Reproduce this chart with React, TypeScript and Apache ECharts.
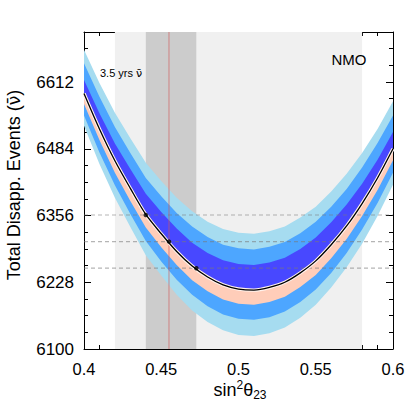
import React, { useEffect, useRef } from "react";
import * as echarts from "echarts";

// sin^2(theta23) sample positions
const xValues = [0.4, 0.41, 0.42, 0.43, 0.44, 0.45, 0.46, 0.47, 0.48, 0.49, 0.5, 0.51, 0.52, 0.53, 0.54, 0.55, 0.56, 0.57, 0.58, 0.59, 0.6];
// central prediction of total disappearance events (anti-nu)
const centralEvents = [6590, 6522, 6461, 6408, 6358, 6321, 6287, 6259, 6238, 6223, 6215, 6213, 6218, 6228, 6246, 6269, 6300, 6336, 6379, 6428, 6484];
// band edges above the central curve (events)
const upperInner = [26, 30, 33, 37, 40, 42, 44, 45, 46, 47, 48, 48, 48, 47, 46, 45, 43, 41, 38, 35, 32];
const upperMiddle = [58, 62, 65, 68, 70, 72, 74, 76, 77, 77, 78, 78, 78, 77, 76, 75, 73, 71, 69, 67, 64];
const upperOuter = [84, 88, 92, 96, 99, 101, 103, 105, 106, 107, 108, 108, 108, 107, 106, 104, 102, 100, 97, 94, 91];
// band edges below the central curve (events)
const lowerInner = [20, 21, 23, 24, 25, 26, 26, 27, 27, 28, 28, 28, 28, 28, 27, 27, 26, 25, 24, 23, 22];
const lowerMiddle = [42, 45, 47, 49, 51, 53, 54, 55, 56, 57, 57, 57, 57, 56, 56, 55, 54, 52, 50, 48, 46];
const lowerOuter = [62, 67, 71, 74, 78, 80, 83, 85, 86, 87, 88, 88, 88, 87, 86, 84, 82, 79, 77, 73, 69];
// highlighted points and their horizontal levels
const pointX = [0.44, 0.455, 0.4727];
const pointEvents = [6357, 6306, 6255];
// shaded regions in sin^2(theta23)
const lightRegion = [0.42, 0.58];
const darkRegion = [0.44, 0.4727];
const bestFit = 0.455;
// axis ticks
const xTicks = [0.4, 0.45, 0.5, 0.55, 0.6];
const yTicks = [6100, 6228, 6356, 6484, 6612];
const yMax = 6708;

const FONT = "'Liberation Sans', Arial, Helvetica, 'DejaVu Sans', sans-serif";
const MARK_FONT = "'DejaVu Sans', 'Noto Sans', sans-serif";
const NUBAR = "\u03bd\u0304";

const colors = {
  outer: "#a6dcf0",
  middle: "#4da6ff",
  innerUp: "#4848ff",
  innerDown: "#ffcdb9",
};

function bandSeries(lo: number[] | null, hi: number[] | null, color: string, z: number) {
  return {
    type: "custom",
    coordinateSystem: "cartesian2d",
    xAxisIndex: 0,
    yAxisIndex: 0,
    z,
    silent: true,
    clip: true,
    data: [[xValues[0], centralEvents[0]]],
    renderItem: (_params: any, api: any) => {
      const pts: number[][] = [];
      for (let i = 0; i < xValues.length; i++)
        pts.push(api.coord([xValues[i], centralEvents[i] + (hi ? hi[i] : 0)]));
      for (let i = xValues.length - 1; i >= 0; i--)
        pts.push(api.coord([xValues[i], centralEvents[i] - (lo ? lo[i] : 0)]));
      return { type: "polygon", shape: { points: pts }, style: { fill: color, stroke: null } };
    },
  };
}

export default function App() {
  const ref = useRef<HTMLDivElement>(null);
  useEffect(() => {
    const chart = echarts.init(ref.current!, null, { renderer: "svg" });
    const xStep = xTicks[1] - xTicks[0];
    const yStep = yTicks[1] - yTicks[0];
    const axisLineStyle = { color: "#000", width: 1 };
    const xAxisBase = {
      type: "value",
      min: xTicks[0],
      max: xTicks[xTicks.length - 1],
      interval: xStep,
      splitLine: { show: false },
      axisLine: { show: true, onZero: false, lineStyle: axisLineStyle },
      axisTick: { show: true, inside: true, length: 7, lineStyle: { color: "#000" } },
      minorTick: { show: true, splitNumber: 5, length: 4, lineStyle: { color: "#000" } },
      minorSplitLine: { show: false },
    };
    const yMajor = {
      type: "value",
      min: yTicks[0],
      max: yMax,
      interval: yStep,
      splitLine: { show: false },
      axisLine: { show: true, onZero: false, lineStyle: axisLineStyle },
      axisTick: { show: true, inside: true, length: 7, lineStyle: { color: "#000" } },
    };
    const yMinor = {
      type: "value",
      min: yTicks[0],
      max: yMax,
      interval: yStep / 4,
      splitLine: { show: false },
      axisLine: { show: false },
      axisLabel: { show: false },
      axisTick: { show: true, inside: true, length: 4, lineStyle: { color: "#000" } },
    };
    const dashed = { color: "rgba(120,120,120,0.55)", type: [4, 3], width: 1.2 };

    const option: any = {
      animation: false,
      backgroundColor: "#fff",
      grid: { left: 84, right: 14, top: 32, bottom: 58, containLabel: false, outerBoundsMode: "none" },
      xAxis: [
        {
          ...xAxisBase,
          position: "bottom",
          axisLabel: {
            show: true,
            margin: 11,
            fontSize: 16.5,
            color: "#000",
            fontFamily: FONT,
            formatter: (v: number) => String(Math.round(v * 100) / 100),
          },
        },
        { ...xAxisBase, position: "top", axisLabel: { show: false } },
      ],
      yAxis: [
        {
          ...yMajor,
          position: "left",
          axisLabel: {
            show: true,
            margin: 10,
            fontSize: 17,
            color: "#000",
            fontFamily: FONT,
            showMaxLabel: false,
            formatter: (v: number) => (yTicks.indexOf(Math.round(v)) >= 0 ? String(Math.round(v)) : ""),
          },
        },
        { ...yMinor, position: "left" },
        { ...yMajor, position: "right", axisLabel: { show: false } },
        { ...yMinor, position: "right" },
      ],
      graphic: [
        {
          type: "text",
          z: 100,
          x: 14,
          y: 185,
          rotation: Math.PI / 2,
          style: {
            text: "{a|Total Disapp. Events (}{n|" + NUBAR + "}{a|)}",
            fontSize: 18,
            fontFamily: FONT,
            fill: "#000",
            textAlign: "center",
            textVerticalAlign: "middle",
            rich: {
              a: { fontSize: 18, fontFamily: FONT, fill: "#000", lineHeight: 22 },
              n: { fontSize: 17, fontFamily: MARK_FONT, fill: "#000", lineHeight: 22 },
            },
          },
        },
        {
          type: "text",
          z: 100,
          x: 240,
          y: 390,
          style: {
            text: "{m|sin}{sup|2}{m|\u03b8}{sub|23}",
            fontFamily: FONT,
            fill: "#000",
            textAlign: "center",
            textVerticalAlign: "middle",
            rich: {
              m: { fontSize: 18, fontFamily: FONT, fill: "#000", lineHeight: 22, verticalAlign: "middle" },
              sup: { fontSize: 12, fontFamily: FONT, fill: "#000", lineHeight: 12, verticalAlign: "top" },
              sub: { fontSize: 12, fontFamily: FONT, fill: "#000", lineHeight: 12, verticalAlign: "bottom" },
            },
          },
        },
        {
          type: "text",
          z: 100,
          x: 100,
          y: 73,
          style: {
            text: "{a|3.5 yrs }{n|" + NUBAR + "}",
            fontSize: 11,
            fontFamily: FONT,
            fill: "#000",
            textAlign: "left",
            textVerticalAlign: "middle",
            rich: {
              a: { fontSize: 11, fontFamily: FONT, fill: "#000", lineHeight: 14 },
              n: { fontSize: 11, fontFamily: MARK_FONT, fill: "#000", lineHeight: 14 },
            },
          },
        },
        {
          type: "text",
          z: 100,
          x: 349,
          y: 59,
          style: {
            text: "NMO",
            fontSize: 15,
            fontFamily: FONT,
            fill: "#000",
            textAlign: "center",
            textVerticalAlign: "middle",
          },
        },
      ],
      series: [
        {
          type: "line",
          xAxisIndex: 0,
          yAxisIndex: 0,
          data: [],
          z: 0,
          silent: true,
          markArea: {
            silent: true,
            data: [
              [{ xAxis: lightRegion[0], itemStyle: { color: "#f0f0f0" } }, { xAxis: lightRegion[1] }],
              [{ xAxis: darkRegion[0], itemStyle: { color: "#cccccc" } }, { xAxis: darkRegion[1] }],
            ],
          },
        },
        bandSeries(lowerOuter, upperOuter, colors.outer, 2),
        bandSeries(lowerMiddle, upperMiddle, colors.middle, 3),
        bandSeries(null, upperInner, colors.innerUp, 4),
        bandSeries(lowerInner, null, colors.innerDown, 4),
        ...pointEvents.map((v) => ({
          type: "line",
          xAxisIndex: 0,
          yAxisIndex: 0,
          z: 5,
          silent: true,
          showSymbol: false,
          data: [
            [xTicks[0], v],
            [xTicks[xTicks.length - 1], v],
          ],
          lineStyle: dashed,
        })),
        {
          type: "line",
          xAxisIndex: 0,
          yAxisIndex: 0,
          z: 5,
          silent: true,
          showSymbol: false,
          data: [
            [bestFit, yTicks[0]],
            [bestFit, yMax],
          ],
          lineStyle: { color: "rgba(210,90,90,0.5)", type: "solid", width: 1.3 },
        },
        {
          type: "line",
          xAxisIndex: 0,
          yAxisIndex: 0,
          z: 6,
          silent: true,
          smooth: 0.3,
          showSymbol: false,
          data: xValues.map((x, i) => [x, centralEvents[i]]),
          lineStyle: { color: "#fff2ec", width: 3.4 },
        },
        {
          type: "line",
          xAxisIndex: 0,
          yAxisIndex: 0,
          z: 7,
          silent: true,
          smooth: 0.3,
          showSymbol: false,
          data: xValues.map((x, i) => [x, centralEvents[i]]),
          lineStyle: { color: "#000", width: 1.3 },
        },
        {
          type: "scatter",
          xAxisIndex: 0,
          yAxisIndex: 0,
          z: 8,
          silent: true,
          symbolSize: 4.5,
          itemStyle: { color: "#000" },
          data: pointX.map((x, i) => [x, pointEvents[i]]),
        },
      ],
    };
    chart.setOption(option);
    return () => chart.dispose();
  }, []);
  return (
    <div
      ref={ref}
      style={{ position: "fixed", left: 0, top: 0, width: 407, height: 407, background: "#fff" }}
    />
  );
}
